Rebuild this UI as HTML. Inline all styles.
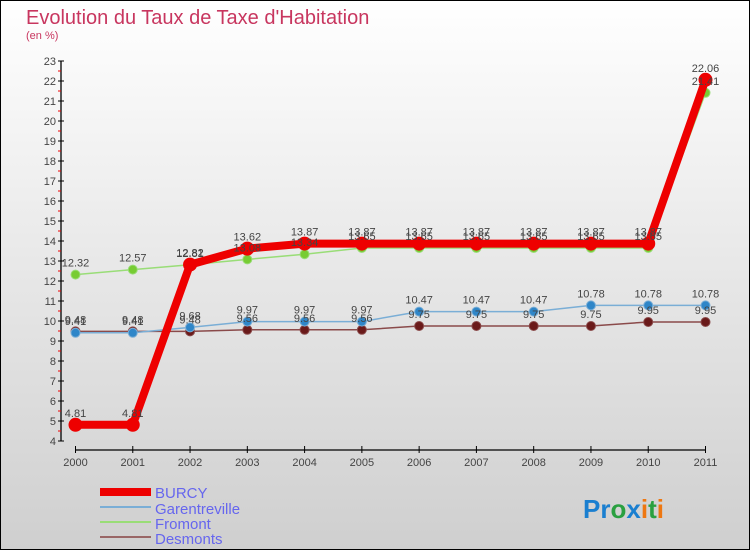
<!DOCTYPE html>
<html><head><meta charset="utf-8"><style>
body{margin:0;}
#c{width:750px;height:550px;position:relative;}
text{font-family:"Liberation Sans",sans-serif;}
</style></head><body>
<div id="c">
<svg id="s" width="750" height="550" xmlns="http://www.w3.org/2000/svg">
<defs><linearGradient id="bg" x1="0" y1="0" x2="0" y2="1"><stop offset="0" stop-color="#ffffff"/><stop offset="1" stop-color="#cfcfcf"/></linearGradient></defs>
<rect x="0.5" y="0.5" width="749" height="549" fill="url(#bg)" stroke="#000"/>
<text x="26" y="24" font-size="20" fill="#c8365f">Evolution du Taux de Taxe d'Habitation</text>
<text x="26" y="39" font-size="11" fill="#c8365f">(en %)</text>
<g id="axes"></g><g id="series"></g><g id="labels"></g>
<g>
<rect x="100" y="488" width="51" height="8" fill="#e00"/>
<text x="155" y="498" font-size="15" fill="#6666ee">BURCY</text>
<line x1="100" y1="507" x2="151" y2="507" stroke="#7aaed6" stroke-width="2"/>
<text x="155" y="514" font-size="15" fill="#6666ee">Garentreville</text>
<line x1="100" y1="522" x2="151" y2="522" stroke="#99dd77" stroke-width="2"/>
<text x="155" y="529" font-size="15" fill="#6666ee">Fromont</text>
<line x1="100" y1="537" x2="151" y2="537" stroke="#996666" stroke-width="2"/>
<text x="155" y="544" font-size="15" fill="#6666ee">Desmonts</text>
</g>
<text x="583" y="518" font-size="26" font-weight="bold"><tspan fill="#1a7fd0">Pr</tspan><tspan fill="#2aa040">o</tspan><tspan fill="#1a7fd0">x</tspan><tspan fill="#ee7711">i</tspan><tspan fill="#2aa040">t</tspan><tspan fill="#ee7711">i</tspan></text>
</svg></div>
<script>
const years=[2000,2001,2002,2003,2004,2005,2006,2007,2008,2009,2010,2011];
const burcy=[4.81,4.81,12.82,13.62,13.87,13.87,13.87,13.87,13.87,13.87,13.87,22.06];
const garentreville=[9.41,9.41,9.68,9.97,9.97,9.97,10.47,10.47,10.47,10.78,10.78,10.78];
const fromont=[12.32,12.57,12.81,13.08,13.34,13.65,13.65,13.65,13.65,13.65,13.65,21.41];
const desmonts=[9.48,9.48,9.48,9.56,9.56,9.56,9.75,9.75,9.75,9.75,9.95,9.95];
const yTicks=[4,5,6,7,8,9,10,11,12,13,14,15,16,17,18,19,20,21,22,23];
const NS='http://www.w3.org/2000/svg';
const X=i=>75.5+i*(705.5-75.5)/11;
const Y=v=>441-(v-4)*(441-61)/19;
function mk(t,a,p){const e=document.createElementNS(NS,t);for(const k in a)e.setAttribute(k,a[k]);p.appendChild(e);return e;}
const ax=document.getElementById('axes'),se=document.getElementById('series'),lb=document.getElementById('labels');
let yl=mk('line',{x1:61,y1:Y(23),x2:61,y2:Y(4),stroke:'#000','stroke-width':1.3},ax);


yTicks.forEach(v=>{mk('line',{x1:58,y1:Y(v),x2:64,y2:Y(v),stroke:'#000'},ax);
 if(v<23)mk('line',{x1:58,y1:Y(v+0.5),x2:61,y2:Y(v+0.5),stroke:'#e00'},ax);
 const t=mk('text',{x:56,y:Y(v)+4,'font-size':11,fill:'#444','text-anchor':'end'},ax);t.textContent=v;
 
 });
let xl=mk('line',{x1:X(0),y1:450,x2:X(11),y2:450,stroke:'#000','stroke-width':1.3},ax);


years.forEach((y,i)=>{mk('line',{x1:X(i),y1:446,x2:X(i),y2:453,stroke:'#000'},ax);
 const t=mk('text',{x:X(i),y:466,'font-size':11,fill:'#444','text-anchor':'middle'},ax);t.textContent=y;
 
 });
function draw(vals,name,color,w,r,dot){
 const g=mk('g',{},se);
 
 
 mk('polyline',{points:vals.map((v,i)=>X(i)+','+Y(v)).join(' '),fill:'none',stroke:color,'stroke-width':w,'stroke-linejoin':'round'},g);
 vals.forEach((v,i)=>{const c=mk('circle',{cx:X(i),cy:Y(v),r:r,fill:dot,stroke:color,'stroke-width':1},g);
  
  
  const t=mk('text',{x:X(i),y:Y(v)-8,'font-size':11,fill:'#444','text-anchor':'middle'},lb);t.textContent=v;
  
  });
}
draw(desmonts,'desmonts','#8a4a4a',1.5,4.5,'#6a1a1a');
draw(garentreville,'garentreville','#7aaed6',1.5,4.5,'#2f86c8');
draw(fromont,'fromont','#99dd77',1.5,4.5,'#77cc33');
draw(burcy,'burcy','#ee0000',8,6.5,'#ee0000');
</script>
</body></html>
